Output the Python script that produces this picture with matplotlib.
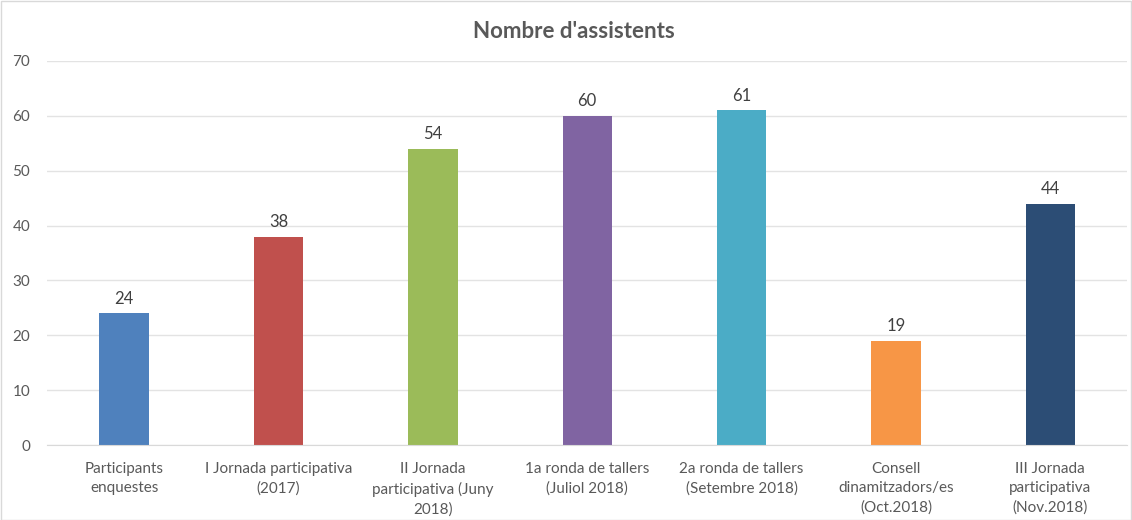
import matplotlib.pyplot as plt

categories = [
    "Participants\nenquestes",
    "I Jornada participativa\n(2017)",
    "II Jornada\nparticipativa (Juny\n2018)",
    "1a ronda de tallers\n(Juliol 2018)",
    "2a ronda de tallers\n(Setembre 2018)",
    "Consell\ndinamitzadors/es\n(Oct.2018)",
    "III Jornada\nparticipativa\n(Nov.2018)",
]
values = [24, 38, 54, 60, 61, 19, 44]
colors = ["#4F81BD", "#C0504D", "#9BBB59", "#8064A2", "#4BACC6", "#F79646", "#2C4D75"]
title = "Nombre d'assistents"

plt.rcParams["font.family"] = ["Lato", "DejaVu Sans"]
text_color = "#595959"

fig = plt.figure(figsize=(11.32, 5.2), dpi=100)
ax = fig.add_axes([0.0415, 0.1442, 0.9545, 0.7385])

x = list(range(len(categories)))
bars = ax.bar(x, values, width=0.32, color=colors, zorder=3)
for b, v in zip(bars, values):
    ax.text(b.get_x() + b.get_width() / 2, v + 1.2, str(v), ha="center", va="bottom",
            fontsize=12, color="#404040")

ax.set_xlim(-0.5, len(categories) - 0.5)
ax.set_ylim(0, 70)
ax.set_yticks(range(0, 71, 10))
ax.yaxis.grid(True, color="#E3E3E3", linewidth=1, zorder=0)
ax.set_xticks(x)
ax.set_xticklabels(categories, fontsize=11, color=text_color, linespacing=1.5)
ax.tick_params(axis="y", labelsize=11, labelcolor=text_color, length=0, pad=12)
ax.tick_params(axis="x", length=0, pad=12)
for s in ["top", "right", "left"]:
    ax.spines[s].set_visible(False)
ax.spines["bottom"].set_color("#D9D9D9")
ax.spines["bottom"].set_zorder(4)

fig.text(0.507, 0.94, title, ha="center", va="center", fontsize=16,
         fontweight="bold", color=text_color)

# faint chart border like the source export
fig.patches.append(plt.Rectangle((0.001, 0.0), 0.998, 0.999, transform=fig.transFigure,
                                 fill=False, edgecolor="#D9D9D9", linewidth=1))

fig.savefig("out.png", dpi=100)
